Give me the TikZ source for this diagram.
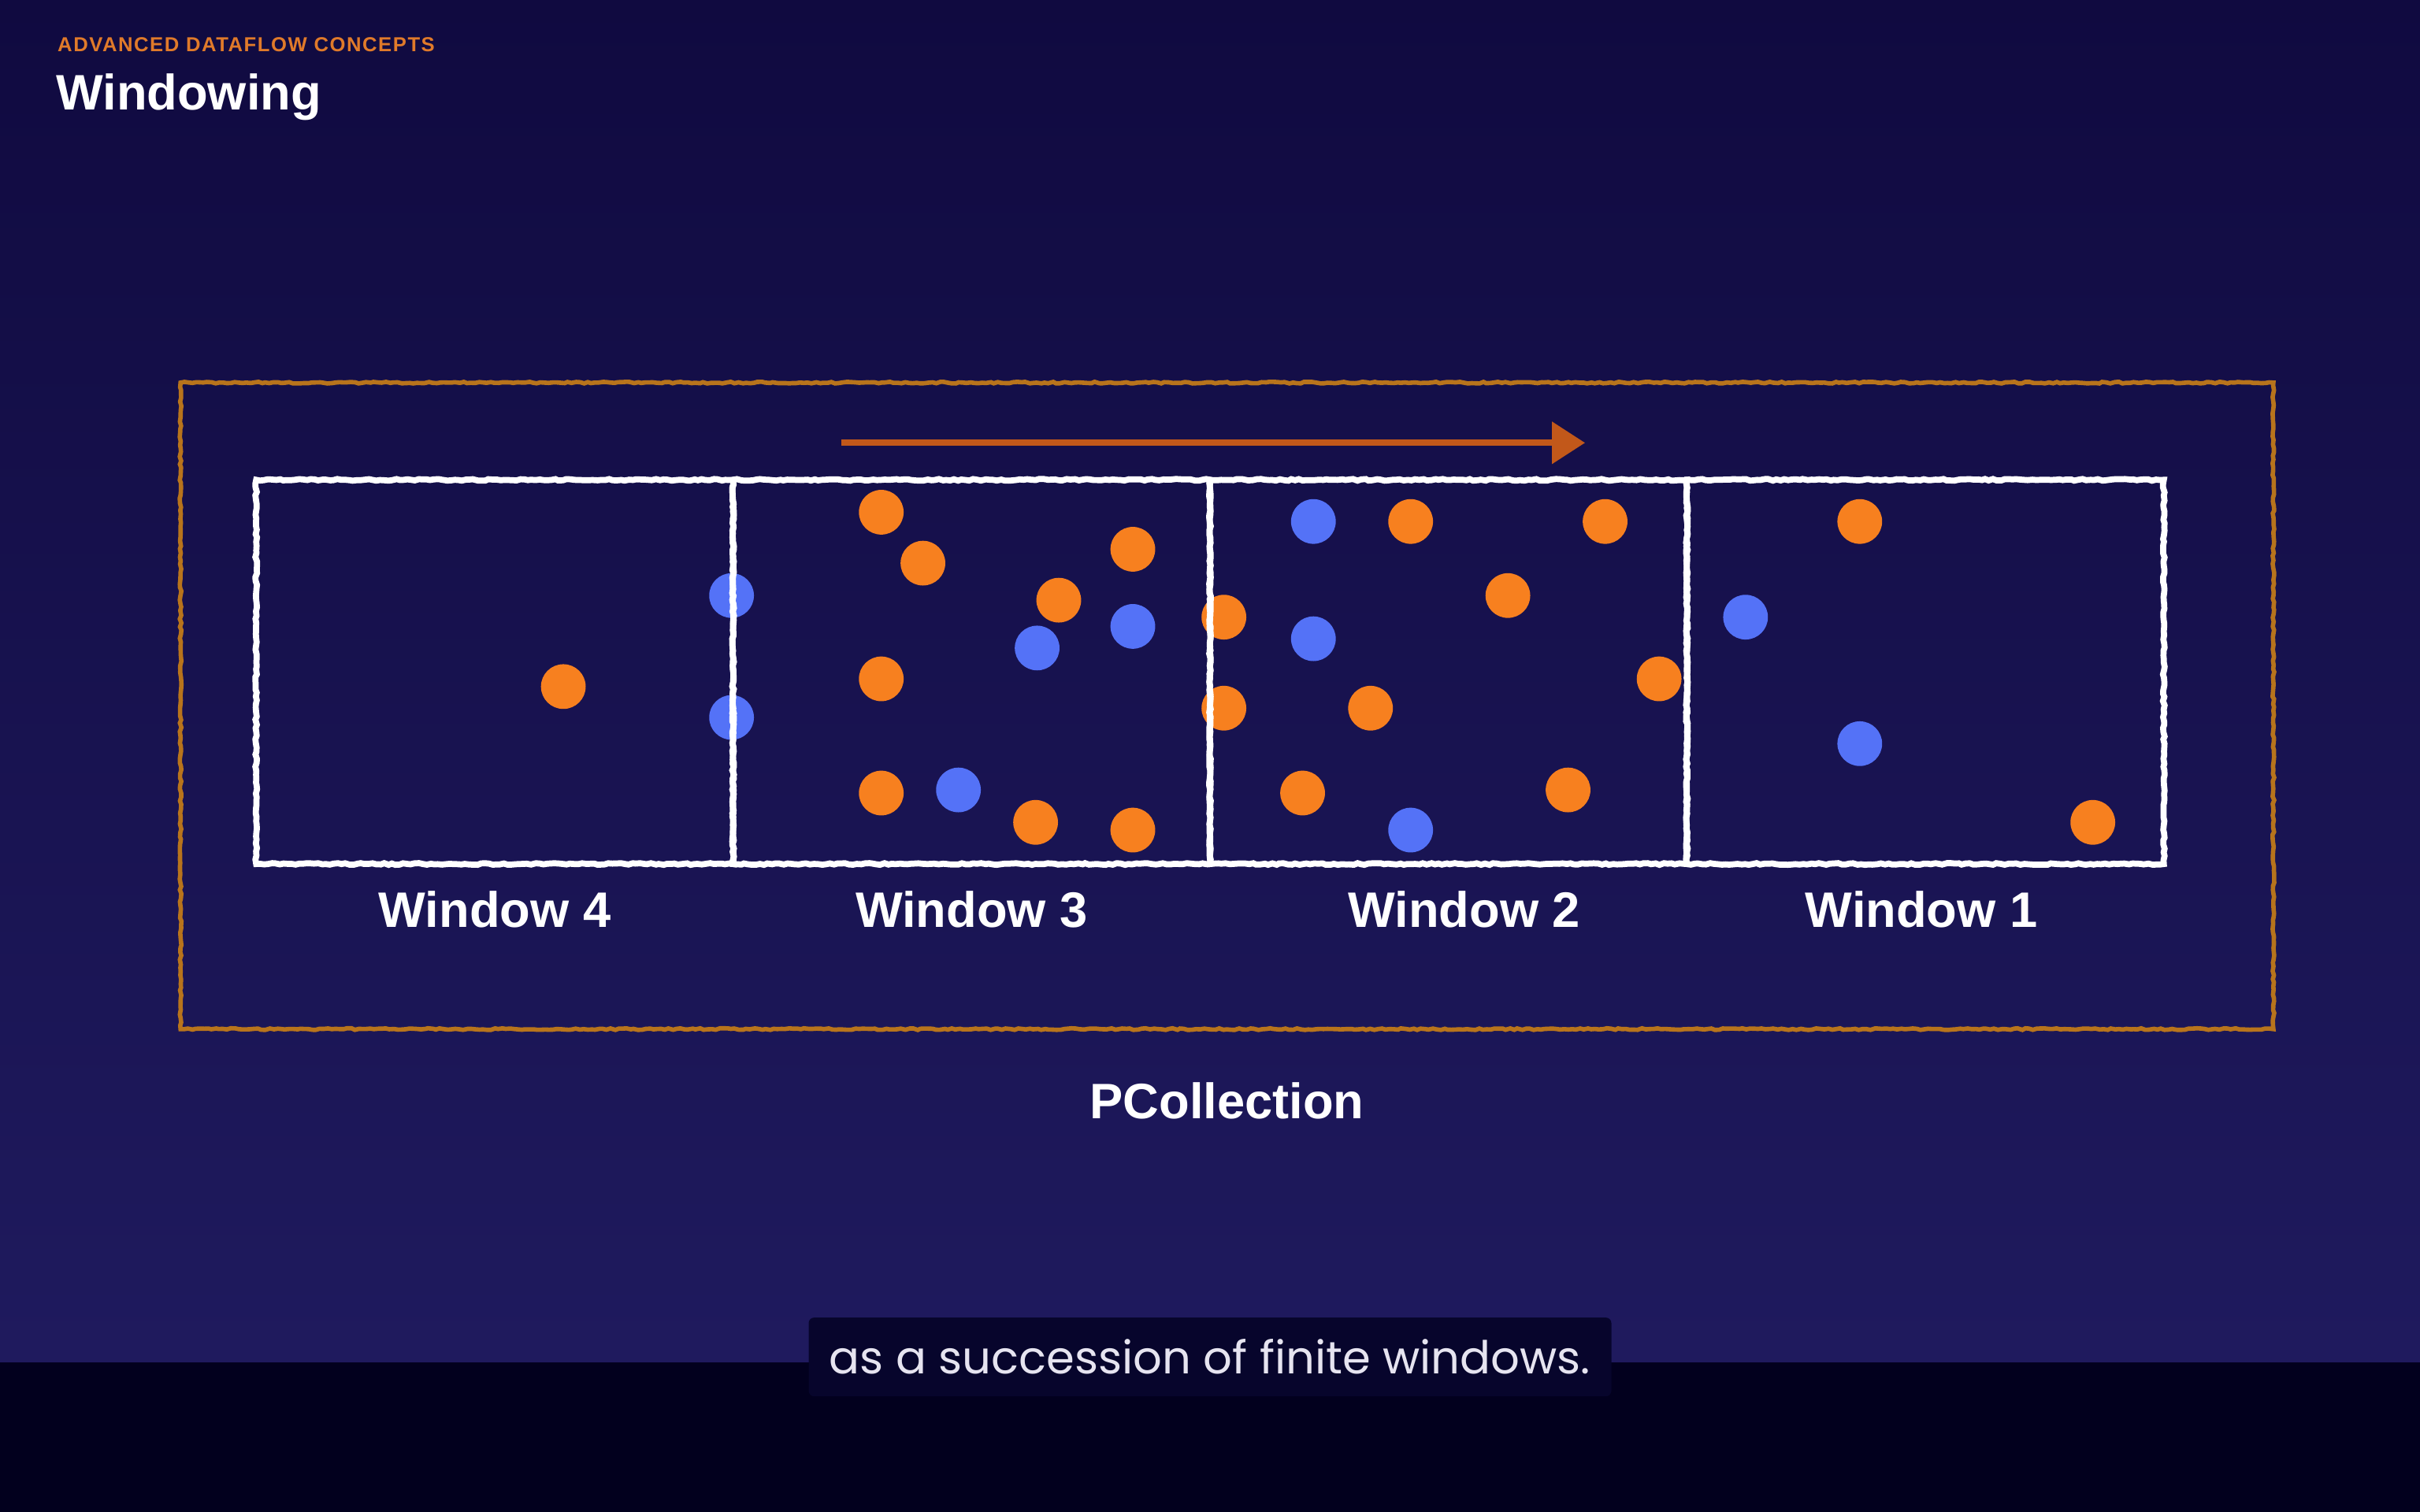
\documentclass[tikz,border=0pt]{standalone}
\usepackage{fontspec}
\setmainfont{Liberation Sans}
\newfontfamily\capfont{Poppins}
\usetikzlibrary{positioning,decorations.pathmorphing,arrows.meta}

\definecolor{bgtop}{HTML}{100A40}
\definecolor{bgbot}{HTML}{1F1A5E}
\definecolor{band}{HTML}{02001E}
\definecolor{capbox}{HTML}{07052C}
\definecolor{captext}{HTML}{E6E4F0}
\definecolor{dotorange}{HTML}{F7801F}
\definecolor{dotblue}{HTML}{5472F7}
\definecolor{framegold}{HTML}{B8741C}
\definecolor{arroworange}{HTML}{C2581A}
\definecolor{kicker}{HTML}{E07A2A}

\tikzset{
  chalk/.style={decorate, decoration={random steps, segment length=1.4pt, amplitude=0.3pt}},
  windowbox/.style={draw=white, line width=2.2pt, chalk, inner sep=0pt,
    minimum width=6.054cm, minimum height=4.878cm},
  framebox/.style={draw=framegold, line width=1.6pt, chalk, inner sep=0pt,
    minimum width=26.567cm, minimum height=8.209cm},
  winlabel/.style={text=white, inner sep=0pt, font=\fontsize{18}{20}\selectfont\bfseries},
  flowarrow/.style={draw=arroworange, line width=2.2pt,
    -{Triangle[length=0.42cm, width=0.52cm]}},
  orangedot/.style={fill=dotorange},
  bluedot/.style={fill=dotblue}
}

\begin{document}
\begin{tikzpicture}[x=0.019592cm, y=-0.019592cm]
\pgfmathsetseed{7}
\useasboundingbox (0,0) rectangle (1568,980);

% background and subtitle band
\shade[top color=bgtop, bottom color=bgbot] (0,0) rectangle (1568,883);
\fill[band] (0,883) rectangle (1568,980);

% heading
\node[anchor=west, inner sep=0pt, text=kicker,
      font=\fontsize{7.3}{8}\selectfont\bfseries\addfontfeature{LetterSpace=6}]
  (kick) at (37,29) {ADVANCED DATAFLOW CONCEPTS};
\node[anchor=west, inner sep=0pt, text=white,
      font=\fontsize{18}{20}\selectfont\bfseries]
  (title) at (36,63) {Windowing};

% elements
\foreach \x/\y in {365/445, 571/332, 598/365, 734/356, 686/389, 571/440,
                   571/514, 671/533, 734/538, 793/400, 793/459, 914/338,
                   1040/338, 977/386, 1075/440, 888/459, 844/514, 1016/512,
                   1205/338, 1356/533}
  \fill[orangedot] (\x,\y) circle (0.284cm);
\foreach \x/\y in {474/386, 474/465, 672/420, 734/406, 621/512, 851/338,
                   851/414, 914/538, 1131/400, 1205/482}
  \fill[bluedot] (\x,\y) circle (0.284cm);

% windows
\node[windowbox] (w4) at (320.5,435.5) {};
\node[windowbox] (w3) at (629.5,435.5) {};
\node[windowbox] (w2) at (938.5,435.5) {};
\node[windowbox] (w1) at (1247.5,435.5) {};

\node[winlabel, below=0.3cm of w4] (l4) {Window 4};
\node[winlabel, below=0.3cm of w3] (l3) {Window 3};
\node[winlabel, below=0.3cm of w2, xshift=0.2cm] (l2) {Window 2};
\node[winlabel, below=0.3cm of w1, xshift=-0.05cm] (l1) {Window 1};

% collection frame
\node[framebox] (pcoll) at (795,457.5) {};
\node[winlabel, below=0.64cm of pcoll] (pname) {PCollection};

% time direction
\coordinate (flowstart) at (545,287);
\coordinate (flowend) at (1027,287);
\draw[flowarrow] (flowstart) -- (flowend);

% subtitle
\node[fill=capbox, rounded corners=2pt, minimum width=10.19cm, minimum height=1.0cm,
      text=captext, font=\capfont\fontsize{16.4}{19}\selectfont]
  (caption) at (784,879.5) {as a succession of finite windows.};
\end{tikzpicture}
\end{document}
